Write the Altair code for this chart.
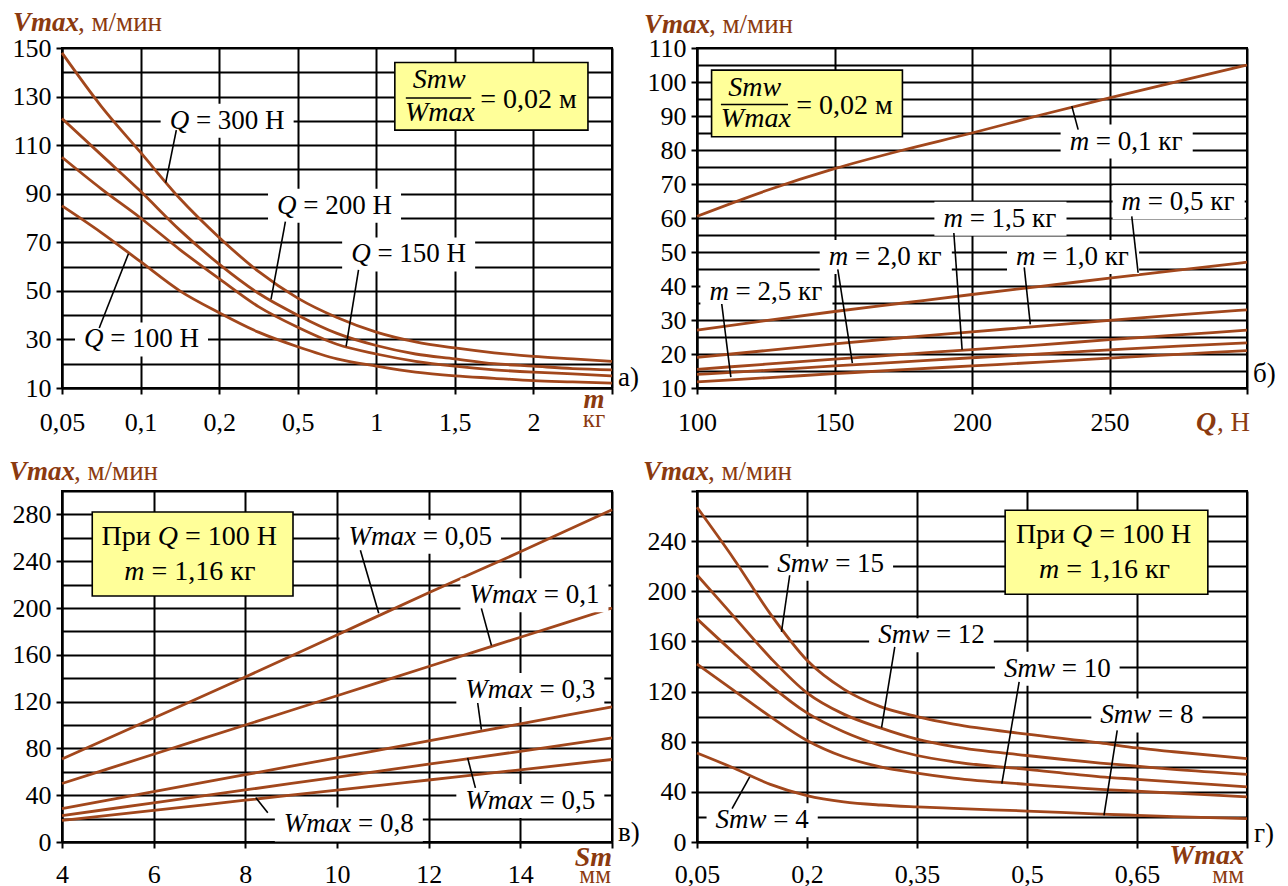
import altair as alt
import pandas as pd

FONT = "Liberation Serif"
LINE_C = "#A2471C"
TITLE_C = "#8B3A0F"
BOX_C = "#FFFF99"

# ---------------- panel а) : Vmax vs m ----------------
A_M = [0.05, 0.075, 0.1, 0.15, 0.2, 0.35, 0.5, 0.75, 1, 1.25, 1.5, 1.75, 2, 2.25, 2.5]
A_Q300 = [148, 126, 107, 88, 72, 58, 47, 39, 33, 29, 26.5, 24.5, 23, 22, 21]
A_Q200 = [121, 106, 91, 75, 61, 49, 40, 32.5, 27.5, 24, 22, 20, 19, 18, 17.5]
A_Q150 = [105, 92, 80, 67, 55, 43.5, 35, 28, 24, 21, 19, 17.5, 16.5, 15.8, 15]
A_Q100 = [85, 74, 62, 50, 41, 33, 27, 22, 19, 16.5, 15, 14, 13, 12.5, 12]
A_XTICKS = [0.05, 0.1, 0.2, 0.5, 1, 1.5, 2, 2.5]
A_YGRID = list(range(10, 151, 10))
A_LBL_VAR = ["Q", "Q", "Q", "Q"]
A_LBL_REST = ["= 300 Н", "= 200 Н", "= 150 Н", "= 100 Н"]
A_LBL_X = [0.137, 0.421, 0.84, 0.064]
A_LBL_Y = [120, 85, 65, 30]
A_LDR_X1 = [0.1455, 0.453, 0.887, 0.0737]
A_LDR_Y1 = [116.2, 78.5, 58.6, 34.7]
A_LDR_X2 = [0.132, 0.398, 0.808, 0.0923]
A_LDR_Y2 = [94.6, 46.5, 27.1, 65.3]
A_BOX = [1.118, 2.347, 116.2, 144]
A_FRAC = {"num": (1.4, 136.8), "bar": (1.188, 1.604, 129.4), "den": (1.405, 123.2), "eq": (1.662, 128.6)}

# ---------------- panel б) : Vmax vs Q ----------------
B_Q = [100, 125, 150, 175, 200, 225, 250, 275, 300]
B_M01 = [60.5, 68, 74.5, 80, 85, 90.3, 95.3, 100.2, 105]
B_M05 = [27, 29.8, 32.5, 35, 37.5, 39.9, 42.3, 44.7, 47]
B_M10 = [19, 21, 23, 24.8, 26.5, 28.2, 29.9, 31.5, 33]
B_M15 = [15.5, 17, 18.5, 19.9, 21.3, 22.7, 24.2, 25.6, 27]
B_M20 = [14, 15.2, 16.5, 17.7, 18.9, 20, 21.2, 22.3, 23.3]
B_M25 = [11.8, 13, 14.2, 15.4, 16.5, 17.6, 18.8, 19.9, 21]
B_XTICKS = [100, 150, 200, 250, 300]
B_YGRID = list(range(10, 111, 5))
B_LBL_VAR = ["m"] * 6
B_LBL_REST = ["= 0,1 кг", "= 0,5 кг", "= 1,5 кг", "= 2,0 кг", "= 1,0 кг", "= 2,5 кг"]
B_LBL_X = [235.5, 254.4, 189.6, 147.9, 216, 104.5]
B_LBL_Y = [82.5, 64.6, 59.8, 48.5, 48.5, 38.3]
B_LDR_X1 = [238.6, 258.1, 193.4, 151.2, 219, 109]
B_LDR_Y1 = [86, 60.5, 55.6, 44.9, 45.5, 34.7]
B_LDR_X2 = [236.3, 260.4, 196.4, 156.5, 221.2, 112.3]
B_LDR_Y2 = [92.9, 43.9, 21.3, 17.3, 28.7, 13.2]
B_BOX = [105.3, 174.7, 83.9, 103.5]
B_FRAC = {"num": (121, 98.3), "bar": (108.7, 133.1, 93.4), "den": (121.4, 89), "eq": (136.1, 92.9)}

# ---------------- panel в) : Vmax vs Sm ----------------
C_S = [4, 6, 8, 10, 12, 14, 16]
C_W005 = [71, 106, 141, 177, 213, 248, 284]
C_W01 = [50, 75, 100, 125, 150, 175, 200]
C_W03 = [28.5, 43, 57.5, 72, 86.5, 101, 115.5]
C_W05 = [22.5, 33.5, 44.5, 55.5, 66.5, 77.5, 89]
C_W08 = [18.5, 27, 35.7, 44.3, 53, 61.7, 70.5]
C_XTICKS = [4, 6, 8, 10, 12, 14, 16]
C_YGRID = list(range(0, 301, 20))
C_LBL_VAR = ["Wmax"] * 5
C_LBL_REST = ["= 0,05", "= 0,1", "= 0,3", "= 0,5", "= 0,8"]
C_LBL_X = [10.25, 12.89, 12.8, 12.8, 8.84]
C_LBL_Y = [260.8, 211, 130, 35, 15]
C_LDR_X1 = [10.51, 13.15, 13.07, 13.02, 8.49]
C_LDR_Y1 = [249.4, 199.7, 118.8, 46.3, 25]
C_LDR_X2 = [10.91, 13.37, 13.15, 12.85, 8.23]
C_LDR_Y2 = [195.5, 167.9, 96, 71.9, 37.8]
C_BOX = [4.66, 9.04, 210.2, 282.1]
C_BOXTXT = {"q": (6.09, 260.8), "m": (5.36, 231)}

# ---------------- panel г) : Vmax vs Wmax ----------------
D_W = [0.05, 0.1, 0.15, 0.2, 0.25, 0.3, 0.35, 0.4, 0.5, 0.6, 0.65, 0.7, 0.8]
D_S15 = [267, 226, 182, 145, 122, 108, 100, 94, 86, 79, 75, 72, 66.5]
D_S12 = [213, 180, 147, 119, 102, 91, 82, 76, 69, 63, 60.5, 58, 54]
D_S10 = [178, 151, 125, 103, 88, 77, 69, 64, 58, 52, 50, 48, 44]
D_S8 = [142, 121, 100, 81, 68, 60, 55, 51, 46, 42, 40.5, 39, 36]
D_S4 = [71, 59, 46, 37, 32, 29.5, 28, 26.8, 24.7, 22.3, 21.3, 20.3, 18.6]
D_XTICKS = [0.05, 0.2, 0.35, 0.5, 0.65, 0.8]
D_YGRID = list(range(0, 281, 20))
D_LBL_VAR = ["Smw"] * 5
D_LBL_REST = ["= 15", "= 12", "= 10", "= 8", "= 4"]
D_LBL_X = [0.1596, 0.297, 0.4685, 0.6, 0.0753]
D_LBL_Y = [222, 165, 138.3, 101, 17.3]
D_LDR_X1 = [0.1764, 0.3197, 0.4893, 0.623, 0.0978]
D_LDR_Y1 = [212.8, 155.6, 127.7, 89, 26.6]
D_LDR_X2 = [0.1652, 0.3017, 0.4657, 0.605, 0.1219]
D_LDR_Y2 = [167.6, 91.2, 46.5, 21.3, 51.9]
D_BOX = [0.4702, 0.7466, 197.6, 264.6]
D_BOXTXT = {"q": (0.5615, 244.7), "m": (0.5163, 216.8)}

# ---------------- layout ----------------
W1, H1 = 550, 340
W2, H2 = 550, 351
LBL_SIZE = 27
BOX_SIZE = 28
TICK_SIZE_FONT = 26

CHAR_W = {'Q': .722, 'm': .722, 'W': .833, 'a': .5, 'x': .444, 'S': .5, 'w': .667,
          ' ': .25, '=': .564, ',': .25, 'Н': .722, 'к': .5, 'г': .44}


def text_width(s, size):
    return size * sum(CHAR_W.get(c, .5) for c in s)


def axis_x(values, last, pad):
    expr = f"datum.value >= {last} ? '' : replace(toString(datum.value), '.', ',')"
    return alt.Axis(values=values, grid=True, gridColor="black", gridWidth=2,
                    domainColor="black", domainWidth=2, tickColor="black", tickWidth=2,
                    tickSize=6, labelFont=FONT, labelFontSize=TICK_SIZE_FONT,
                    labelColor="black", labelPadding=pad, labelFlush=False,
                    labelOverlap=False, labelExpr=expr)


def axis_y(values, tick_test, label_test):
    return alt.Axis(values=values, grid=True, gridColor="black", gridWidth=2,
                    domainColor="black", domainWidth=2, tickColor="black", tickWidth=2,
                    tickSize=6, tickOpacity={"condition": {"test": tick_test, "value": 1}, "value": 0},
                    labelFont=FONT, labelFontSize=TICK_SIZE_FONT, labelColor="black",
                    labelPadding=5, labelOverlap=False, labelFlush=False,
                    labelExpr=f"({label_test}) ? datum.label : ''")


def vtext(s, x, y, size=27, style="normal", weight="normal", color="black",
          align="left", baseline="alphabetic"):
    return alt.Chart(pd.DataFrame({"t": [s]})).mark_text(
        font=FONT, fontSize=size, fontStyle=style, fontWeight=weight, color=color,
        align=align, baseline=baseline).encode(x=alt.value(x), y=alt.value(y), text="t:N")


def curves(xv, series, X, Y):
    rows = [{"x": a, "y": b, "s": k} for k, ys in series.items() for a, b in zip(xv, ys)]
    return alt.Chart(pd.DataFrame(rows)).mark_line(
        color=LINE_C, strokeWidth=2.8, interpolate="monotone").encode(
        x=X("x"), y=Y("y"), detail="s:N")


def labels(var, rest, lx, ly, x1, y1, x2, y2, X, Y, var_dx):
    full = [a + " " + b for a, b in zip(var, rest)]
    paths = []
    for s in full:
        wpx = text_width(s, LBL_SIZE)
        paths.append(f"M-9,-17H{wpx + 9:.1f}V17H-9Z")
    df = pd.DataFrame({"x": lx, "y": ly, "v": var, "r": rest, "p": paths})
    ldf = pd.DataFrame({"x1": x1, "y1": y1, "x2": x2, "y2": y2})
    halo = alt.Chart(df).mark_point(filled=True, color="white", opacity=1, size=4,
                                    strokeWidth=0).encode(
        x=X("x"), y=Y("y"), shape=alt.Shape("p:N", scale=None))
    lead = alt.Chart(ldf).mark_rule(color="black", strokeWidth=1.6).encode(
        x=X("x1"), y=Y("y1"), x2="x2:Q", y2="y2:Q")
    t1 = alt.Chart(df).mark_text(font=FONT, fontSize=LBL_SIZE, fontStyle="italic",
                                 align="left", baseline="middle", color="black").encode(
        x=X("x"), y=Y("y"), text="v:N")
    t2 = alt.Chart(df).mark_text(font=FONT, fontSize=LBL_SIZE, align="left",
                                 baseline="middle", dx=var_dx, color="black").encode(
        x=X("x"), y=Y("y"), text="r:N")
    return [halo, lead, t1, t2]


def box(b, X, Y):
    df = pd.DataFrame({"x1": [b[0]], "x2": [b[1]], "y1": [b[2]], "y2": [b[3]]})
    return alt.Chart(df).mark_rect(fill=BOX_C, stroke="black", strokeWidth=1.6).encode(
        x=X("x1"), x2="x2:Q", y=Y("y1"), y2="y2:Q")


def frac_box(b, fr, X, Y):
    layers = [box(b, X, Y)]
    for key, txt in (("num", "Smw"), ("den", "Wmax")):
        df = pd.DataFrame({"x": [fr[key][0]], "y": [fr[key][1]], "t": [txt]})
        layers.append(alt.Chart(df).mark_text(font=FONT, fontSize=BOX_SIZE, fontStyle="italic",
                                              align="center", baseline="middle").encode(
            x=X("x"), y=Y("y"), text="t:N"))
    bdf = pd.DataFrame({"x1": [fr["bar"][0]], "x2": [fr["bar"][1]], "y1": [fr["bar"][2]]})
    layers.append(alt.Chart(bdf).mark_rule(color="black", strokeWidth=1.6).encode(
        x=X("x1"), x2="x2:Q", y=Y("y1")))
    edf = pd.DataFrame({"x": [fr["eq"][0]], "y": [fr["eq"][1]], "t": ["= 0,02 м"]})
    layers.append(alt.Chart(edf).mark_text(font=FONT, fontSize=BOX_SIZE, align="left",
                                           baseline="middle").encode(
        x=X("x"), y=Y("y"), text="t:N"))
    return layers


def cond_box(b, bt, X, Y):
    layers = [box(b, X, Y)]
    qx, qy = bt["q"]
    mx, my = bt["m"]
    sp = 0.25 * BOX_SIZE
    qw = 0.722 * BOX_SIZE
    df1 = pd.DataFrame({"x": [qx], "y": [qy], "a": ["При"], "b": ["Q"], "c": ["= 100 Н"]})
    layers.append(alt.Chart(df1).mark_text(font=FONT, fontSize=BOX_SIZE, align="right",
                                           baseline="middle", dx=-sp).encode(
        x=X("x"), y=Y("y"), text="a:N"))
    layers.append(alt.Chart(df1).mark_text(font=FONT, fontSize=BOX_SIZE, align="left",
                                           fontStyle="italic", baseline="middle").encode(
        x=X("x"), y=Y("y"), text="b:N"))
    layers.append(alt.Chart(df1).mark_text(font=FONT, fontSize=BOX_SIZE, align="left",
                                           baseline="middle", dx=qw + sp).encode(
        x=X("x"), y=Y("y"), text="c:N"))
    df2 = pd.DataFrame({"x": [mx], "y": [my], "a": ["m"], "b": ["= 1,16 кг"]})
    layers.append(alt.Chart(df2).mark_text(font=FONT, fontSize=BOX_SIZE, align="left",
                                           fontStyle="italic", baseline="middle").encode(
        x=X("x"), y=Y("y"), text="a:N"))
    layers.append(alt.Chart(df2).mark_text(font=FONT, fontSize=BOX_SIZE, align="left",
                                           baseline="middle", dx=qw + sp).encode(
        x=X("x"), y=Y("y"), text="b:N"))
    return layers


def ytitle(x, y):
    return [vtext("Vmax", x, y, 27, "italic", "bold", TITLE_C),
            vtext(", м/мин", x + 65, y, 27, color=TITLE_C)]


# ---- panel а
xs_a = alt.Scale(domain=A_XTICKS, range=[i * W1 / 7 for i in range(8)], nice=False, zero=False)
ys_a = alt.Scale(domain=[10, 150], nice=False, zero=False)
xa_a = axis_x(A_XTICKS, 2.5, 15)
ya_a = axis_y(A_YGRID, "(datum.value - 10) % 20 == 0", "(datum.value - 10) % 20 == 0")
XA = lambda f: alt.X(f"{f}:Q", scale=xs_a, axis=xa_a, title=None)
YA = lambda f: alt.Y(f"{f}:Q", scale=ys_a, axis=ya_a, title=None)
pa_layers = [curves(A_M, {"300": A_Q300, "200": A_Q200, "150": A_Q150, "100": A_Q100}, XA, YA)]
pa_layers += labels(A_LBL_VAR, A_LBL_REST, A_LBL_X, A_LBL_Y, A_LDR_X1, A_LDR_Y1,
                    A_LDR_X2, A_LDR_Y2, XA, YA, 0.722 * LBL_SIZE + 0.25 * LBL_SIZE)
pa_layers += frac_box(A_BOX, A_FRAC, XA, YA)
pa_layers += ytitle(-49, -17)
pa_layers += [vtext("m", W1 - 18, H1 + 20, 27, "italic", "bold", TITLE_C, "center"),
              vtext("кг", W1 - 18, H1 + 39, 25, color=TITLE_C, align="center"),
              vtext("а)", W1 + 6, H1 - 2, 27)]
panel_a = alt.layer(*pa_layers).properties(width=W1, height=H1)

# ---- panel б
xs_b = alt.Scale(domain=[100, 300], nice=False, zero=False)
ys_b = alt.Scale(domain=[10, 110], nice=False, zero=False)
xa_b = axis_x(B_XTICKS, 300, 15)
ya_b = axis_y(B_YGRID, "datum.value % 10 == 0", "datum.value % 10 == 0")
XB = lambda f: alt.X(f"{f}:Q", scale=xs_b, axis=xa_b, title=None)
YB = lambda f: alt.Y(f"{f}:Q", scale=ys_b, axis=ya_b, title=None)
pb_layers = [curves(B_Q, {"0.1": B_M01, "0.5": B_M05, "1.0": B_M10, "1.5": B_M15,
                          "2.0": B_M20, "2.5": B_M25}, XB, YB)]
pb_layers += labels(B_LBL_VAR, B_LBL_REST, B_LBL_X, B_LBL_Y, B_LDR_X1, B_LDR_Y1,
                    B_LDR_X2, B_LDR_Y2, XB, YB, 0.722 * LBL_SIZE + 0.25 * LBL_SIZE)
pb_layers += frac_box(B_BOX, B_FRAC, XB, YB)
pb_layers += ytitle(-53, -15)
pb_layers += [vtext("Q", 499, H1 + 43, 28, "italic", "bold", TITLE_C),
              vtext(", Н", 520, H1 + 43, 27, color=TITLE_C),
              vtext("б)", W1 + 6, H1 - 6, 27)]
panel_b = alt.layer(*pb_layers).properties(width=W1, height=H1)

# ---- panel в
xs_c = alt.Scale(domain=[4, 16], nice=False, zero=False)
ys_c = alt.Scale(domain=[0, 300], nice=False, zero=False)
xa_c = axis_x(C_XTICKS, 16, 13)
ya_c = axis_y(C_YGRID, "datum.value % 40 == 0", "datum.value % 40 == 0")
XC = lambda f: alt.X(f"{f}:Q", scale=xs_c, axis=xa_c, title=None)
YC = lambda f: alt.Y(f"{f}:Q", scale=ys_c, axis=ya_c, title=None)
pc_layers = [curves(C_S, {"0.05": C_W005, "0.1": C_W01, "0.3": C_W03, "0.5": C_W05,
                          "0.8": C_W08}, XC, YC)]
pc_layers += labels(C_LBL_VAR, C_LBL_REST, C_LBL_X, C_LBL_Y, C_LDR_X1, C_LDR_Y1,
                    C_LDR_X2, C_LDR_Y2, XC, YC, 2.499 * LBL_SIZE + 0.25 * LBL_SIZE)
pc_layers += cond_box(C_BOX, C_BOXTXT, XC, YC)
pc_layers += ytitle(-53, -11)
pc_layers += [vtext("Sm", W2, H2 + 24, 28, "italic", "bold", TITLE_C, "right"),
              vtext("мм", W2 - 1, H2 + 41, 25, color=TITLE_C, align="right"),
              vtext("в)", W2 + 6, H2 - 1, 27)]
panel_c = alt.layer(*pc_layers).properties(width=W2, height=H2)

# ---- panel г
xs_d = alt.Scale(domain=[0.05, 0.8], nice=False, zero=False)
ys_d = alt.Scale(domain=[0, 280], nice=False, zero=False)
xa_d = axis_x(D_XTICKS, 0.8, 13)
ya_d = axis_y(D_YGRID, "datum.value % 40 == 0", "datum.value % 40 == 0 && datum.value <= 240")
XD = lambda f: alt.X(f"{f}:Q", scale=xs_d, axis=xa_d, title=None)
YD = lambda f: alt.Y(f"{f}:Q", scale=ys_d, axis=ya_d, title=None)
pd_layers = [curves(D_W, {"15": D_S15, "12": D_S12, "10": D_S10, "8": D_S8, "4": D_S4}, XD, YD)]
pd_layers += labels(D_LBL_VAR, D_LBL_REST, D_LBL_X, D_LBL_Y, D_LDR_X1, D_LDR_Y1,
                    D_LDR_X2, D_LDR_Y2, XD, YD, 1.889 * LBL_SIZE + 0.25 * LBL_SIZE)
pd_layers += cond_box(D_BOX, D_BOXTXT, XD, YD)
pd_layers += ytitle(-54, -11)
pd_layers += [vtext("Wmax", W2 - 3, H2 + 22, 28, "italic", "bold", TITLE_C, "right"),
              vtext("мм", W2 - 3, H2 + 41, 25, color=TITLE_C, align="right"),
              vtext("г)", W2 + 7, H2, 27)]
panel_d = alt.layer(*pd_layers).properties(width=W2, height=H2)

chart = alt.concat(panel_a, panel_b, panel_c, panel_d, columns=2,
                   spacing={"row": 103, "column": 85}, bounds="flush").properties(
    padding=0, background="white"
).configure_view(stroke="black", strokeWidth=2)

chart.save("out.html", embed_options={"renderer": "svg", "actions": False})
